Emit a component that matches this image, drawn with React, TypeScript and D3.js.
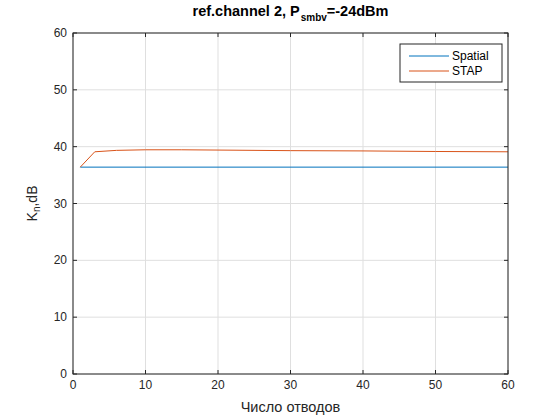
import * as d3 from 'd3';

// data
const spatialX = [1, 60];
const spatialY = [36.4, 36.4];
const stapX = [1, 3, 6, 10, 15, 20, 30, 40, 50, 60];
const stapY = [36.4, 39.1, 39.35, 39.45, 39.45, 39.4, 39.3, 39.25, 39.15, 39.1];
const xTicks = [0, 10, 20, 30, 40, 50, 60];
const yTicks = [0, 10, 20, 30, 40, 50, 60];
const seriesNames = ['Spatial', 'STAP'];
const seriesColors = ['#0072bd', '#d95319'];

const W = 560;
const H = 420;
const m = { left: 73, right: 52, top: 33, bottom: 46 };
const font = 'Arial, "Liberation Sans", Helvetica, sans-serif';

export default function App() {
  const x = d3.scaleLinear().domain([0, 60]).range([m.left, W - m.right]);
  const y = d3.scaleLinear().domain([0, 60]).range([H - m.bottom, m.top]);
  const line = d3.line<[number, number]>().x(d => x(d[0])).y(d => y(d[1]));
  const series = [
    spatialX.map((v, i) => [v, spatialY[i]] as [number, number]),
    stapX.map((v, i) => [v, stapY[i]] as [number, number]),
  ];
  const [x0, x1] = x.range();
  const [y0, y1] = y.range();

  return (
    <svg width={W} height={H} style={{ position: 'absolute', left: 0, top: 0, background: '#fff' }} fontFamily={font}>
      <rect x={0} y={0} width={W} height={H} fill="#fff" />
      {/* grid */}
      {xTicks.map(t => (
        <line key={'gx' + t} x1={x(t)} x2={x(t)} y1={y1} y2={y0} stroke="#dfdfdf" strokeWidth={1} />
      ))}
      {yTicks.map(t => (
        <line key={'gy' + t} x1={x0} x2={x1} y1={y(t)} y2={y(t)} stroke="#dfdfdf" strokeWidth={1} />
      ))}
      {/* lines */}
      {series.map((s, i) => (
        <path key={i} d={line(s) || ''} fill="none" stroke={seriesColors[i]} strokeWidth={1} />
      ))}
      {/* axes box */}
      <rect x={x0} y={y1} width={x1 - x0} height={y0 - y1} fill="none" stroke="#262626" strokeWidth={1} />
      {/* ticks */}
      {xTicks.map(t => (
        <g key={'tx' + t}>
          <line x1={x(t)} x2={x(t)} y1={y0} y2={y0 - 4} stroke="#262626" />
          <line x1={x(t)} x2={x(t)} y1={y1} y2={y1 + 4} stroke="#262626" />
          <text x={x(t)} y={y0 + 15} textAnchor="middle" fontSize={12} fill="#262626">{t}</text>
        </g>
      ))}
      {yTicks.map(t => (
        <g key={'ty' + t}>
          <line x1={x0} x2={x0 + 4} y1={y(t)} y2={y(t)} stroke="#262626" />
          <line x1={x1} x2={x1 - 4} y1={y(t)} y2={y(t)} stroke="#262626" />
          <text x={x0 - 6} y={y(t) + 4} textAnchor="end" fontSize={12} fill="#262626">{t}</text>
        </g>
      ))}
      {/* title */}
      <text x={(x0 + x1) / 2} y={16} textAnchor="middle" fontSize={14.5} fontWeight="bold" fill="#000">
        ref.channel 2, P<tspan fontSize={10} dx={1} dy={5}>smbv</tspan><tspan dy={-5}>=-24dBm</tspan>
      </text>
      {/* x label */}
      <text x={(x0 + x1) / 2} y={412} textAnchor="middle" fontSize={14.5} fill="#262626">Число отводов</text>
      {/* y label */}
      <text transform={`translate(37,${(y0 + y1) / 2}) rotate(-90)`} textAnchor="middle" fontSize={14} fill="#262626">
        K<tspan fontSize={10} dy={3}>n</tspan><tspan dy={-3}>,dB</tspan>
      </text>
      {/* legend */}
      <rect x={400} y={44} width={102} height={38} fill="#fff" stroke="#262626" strokeWidth={1} />
      {seriesNames.map((n, i) => (
        <g key={n}>
          <line x1={409} x2={449} y1={56 + i * 15} y2={56 + i * 15} stroke={seriesColors[i]} strokeWidth={1} />
          <text x={452} y={60 + i * 15} fontSize={12} fill="#000">{n}</text>
        </g>
      ))}
    </svg>
  );
}
